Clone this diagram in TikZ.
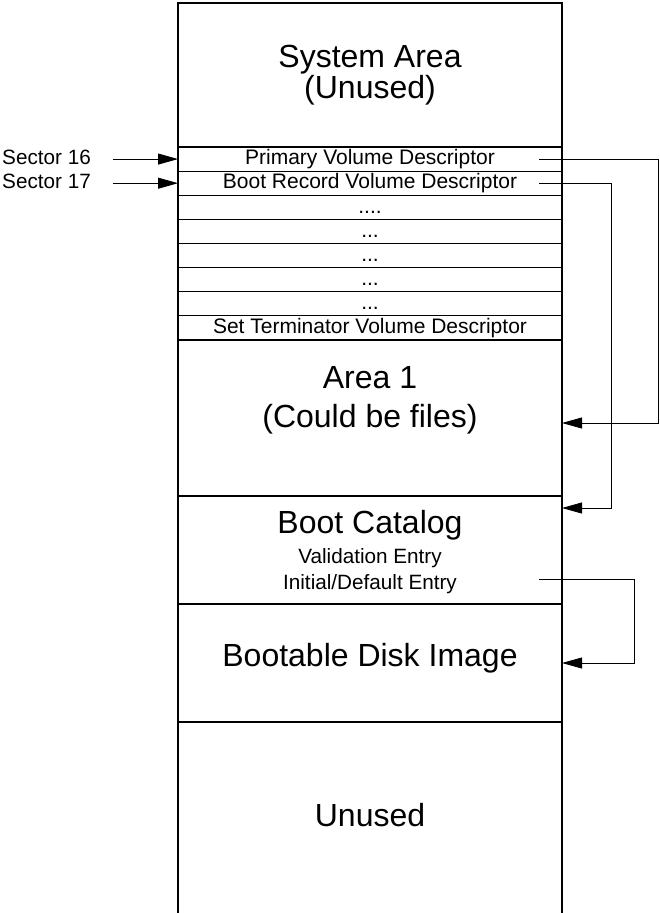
\documentclass[tikz,border=0pt]{standalone}
\usepackage{fontspec}
\setmainfont{Liberation Sans}
\usetikzlibrary{arrows.meta, positioning, calc}

\begin{document}
\begin{tikzpicture}
  [
  x=1pt, y=-1pt,
  % column parts
  sec/.style = {rectangle, draw, line width=1.1pt, inner sep=0pt,
    outer sep=0pt, minimum width=384pt},
  row/.style = {sec, minimum height=24.125pt, font=\fontsize{21}{24}\selectfont,
    text height=15.7pt, text depth=4.2pt},
  % text
  big/.style = {inner sep=0pt, font=\fontsize{32}{36}\selectfont,
    text height=24pt, text depth=6.4pt},
  small/.style = {inner sep=0pt, font=\fontsize{20.7}{24}\selectfont,
    text height=15.5pt, text depth=4.1pt},
  % line
  line/.style = {draw, line width=0.8pt, -{Triangle[length=20pt,width=11pt]}},
  ]
  \useasboundingbox (0,0) rectangle (659,913);

  % nodes
  \node [sec, minimum height=144pt] (sys) at (370,75) {};
  \node [row, below=0pt of sys] (pvd) {Primary Volume Descriptor};
  \node [row, below=0pt of pvd] (bvd) {Boot Record Volume Descriptor};
  \node [row, below=0pt of bvd] (dots1) {....};
  \node [row, below=0pt of dots1] (dots2) {...};
  \node [row, below=0pt of dots2] (dots3) {...};
  \node [row, below=0pt of dots3] (dots4) {...};
  \node [row, below=0pt of dots4] (dots5) {...};
  \node [row, below=0pt of dots5] (stvd) {Set Terminator Volume Descriptor};
  \node [sec, minimum height=156pt, below=0pt of stvd] (area1) {};
  \node [sec, minimum height=108pt, below=0pt of area1] (bcat) {};
  \node [sec, minimum height=118pt, below=0pt of bcat] (bdi) {};
  % bottom edge lies off the page, the column stays open
  \node [sec, minimum height=215pt, below=0pt of bdi] (unused) {};

  % texts in the big parts
  \node [big] (systxt) at ($(sys.north)+(0,55.5)$) {System Area};
  \node [big] (sysnote) at ($(sys.north)+(0,86.8)$) {(Unused)};
  \node [big] (a1txt) at ($(area1.north)+(0,39.5)$) {Area 1};
  \node [big] (a1note) at ($(area1.north)+(0,78.5)$) {(Could be files)};
  \node [big] (bcattxt) at ($(bcat.north)+(0,28.5)$) {Boot Catalog};
  \node [small] (valent) at ($(bcat.north)+(0,61.3)$) {Validation Entry};
  \node [small] (initdef) at ($(bcat.north)+(0,87.3)$) {Initial/Default Entry};
  \node [big] (bditxt) at ($(bdi.north)+(0,53.5)$) {Bootable Disk Image};
  \node [big] (untxt) at ($(unused.north)+(0,96)$) {Unused};

  % sector labels
  \node [small, left=87pt of pvd] (sec16) {Sector 16};
  \node [small, left=87pt of bvd] (sec17) {Sector 17};

  % start points of the links
  \coordinate [left=23pt of pvd.east] (pvdout);
  \coordinate [left=23pt of bvd.east] (bvdout);
  \coordinate (initout) at ([xshift=-23pt,yshift=4pt]bcat.east |- initdef);

  % path
  \path [line] ([xshift=22pt]sec16.east) -- (pvd.west);
  \path [line] ([xshift=22pt]sec17.east) -- (bvd.west);
  \path [line] (pvdout) -- ([xshift=96pt]pvd.east) |- ([yshift=-5pt]area1.east);
  \path [line] (bvdout) -- ([xshift=49pt]bvd.east) |- ([yshift=-12pt]bcat.north east);
  \path [line] (initout) -- ([xshift=72pt]initout -| bcat.east) |- (bdi.east);

\end{tikzpicture}
\end{document}
